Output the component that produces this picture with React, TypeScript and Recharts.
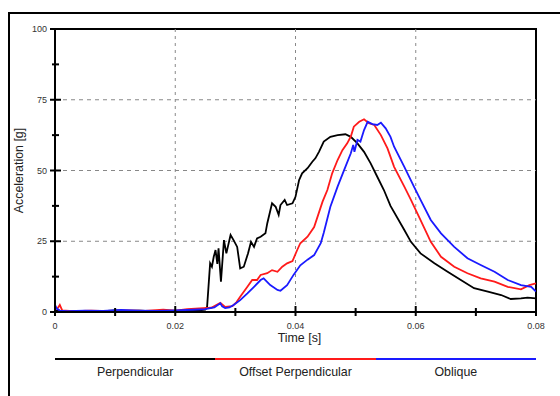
import { LineChart, Line, XAxis, YAxis, ReferenceLine, ReferenceArea } from "recharts";

// time [s] and acceleration [g]
const perpT = [0, 0.002, 0.004, 0.006, 0.008, 0.01, 0.012, 0.014, 0.016, 0.018, 0.02, 0.022, 0.024, 0.025, 0.0253, 0.0258, 0.0261, 0.0264, 0.0267, 0.027, 0.0272, 0.0276, 0.0281, 0.0285, 0.0292, 0.0297, 0.0303, 0.0308, 0.0314, 0.0321, 0.0326, 0.0331, 0.0336, 0.0342, 0.035, 0.0353, 0.0361, 0.0367, 0.0372, 0.0375, 0.0382, 0.0386, 0.0395, 0.04, 0.0406, 0.0411, 0.042, 0.0428, 0.0433, 0.0439, 0.0447, 0.0458, 0.047, 0.0483, 0.0492, 0.0503, 0.0514, 0.0525, 0.0536, 0.0547, 0.0558, 0.0581, 0.0592, 0.0608, 0.0631, 0.0653, 0.0675, 0.0697, 0.072, 0.0742, 0.0758, 0.0775, 0.0786, 0.08];
const perpAcc = [0.5, 0.3, 0.4, 0.2, 0.3, 0.6, 0.4, 0.5, 0.3, 0.5, 0.4, 0.5, 0.6, 0.8, 1.9, 17.2, 16, 19.5, 21.9, 17, 22.5, 10.7, 25.4, 20.7, 27.2, 25.4, 23, 15.4, 16, 20.7, 24.8, 23, 26, 26.6, 27.8, 31.3, 38.4, 37.2, 34.3, 37.8, 39.6, 37.8, 38.4, 40.7, 46.6, 49, 50.8, 53.1, 54.3, 56.6, 60.2, 61.9, 62.5, 62.8, 61.9, 59.6, 56.6, 52.5, 47.8, 43.1, 37.5, 29, 24.8, 20.7, 17.2, 14.2, 11.3, 8.4, 7.2, 6, 4.6, 4.8, 5.1, 4.8];

const offT = [0, 0.0005, 0.0008, 0.0012, 0.003, 0.006, 0.009, 0.012, 0.015, 0.018, 0.02, 0.022, 0.024, 0.026, 0.0275, 0.0283, 0.0295, 0.0302, 0.0308, 0.032, 0.0328, 0.0336, 0.0342, 0.0353, 0.0361, 0.037, 0.0378, 0.0386, 0.0395, 0.0403, 0.0408, 0.042, 0.0431, 0.0445, 0.0453, 0.0461, 0.047, 0.0478, 0.0486, 0.0492, 0.0497, 0.0506, 0.0514, 0.0522, 0.0531, 0.0542, 0.0553, 0.0564, 0.0581, 0.0592, 0.0608, 0.0625, 0.0642, 0.0664, 0.0686, 0.0708, 0.0731, 0.0753, 0.0775, 0.0789, 0.08];
const offAcc = [1.0, 1.5, 2.5, 0.6, 0.3, 0.5, 0.3, 0.6, 0.4, 0.8, 0.5, 1.0, 1.3, 1.5, 3.2, 1.8, 2.1, 3.5, 5.4, 8.9, 11.3, 11.3, 13.1, 13.7, 14.8, 14.2, 16, 17.2, 18, 22, 24.3, 26.6, 30, 39, 43.1, 49, 53.7, 57.2, 59.6, 62, 65.5, 67.2, 68.1, 66.7, 66.1, 62.5, 57.8, 51.3, 44.3, 39.6, 32.5, 24.8, 19.5, 16, 13.7, 11.9, 10.7, 8.9, 8, 9.5, 10.1];

const oblT = [0, 0.0003, 0.0008, 0.002, 0.005, 0.008, 0.011, 0.014, 0.017, 0.02, 0.023, 0.025, 0.0265, 0.0275, 0.0278, 0.0283, 0.029, 0.0297, 0.0308, 0.032, 0.0331, 0.0342, 0.0347, 0.0358, 0.037, 0.0375, 0.0386, 0.0397, 0.0408, 0.042, 0.0431, 0.0442, 0.0447, 0.0458, 0.047, 0.0481, 0.0492, 0.0496, 0.0498, 0.0503, 0.0508, 0.0514, 0.052, 0.0528, 0.0536, 0.0542, 0.055, 0.0558, 0.0564, 0.0581, 0.0597, 0.0608, 0.0625, 0.0642, 0.0664, 0.0686, 0.0708, 0.0731, 0.0753, 0.0775, 0.0792, 0.08];
const oblAcc = [2.5, 1.2, 0.5, 0.3, 0.5, 0.4, 0.7, 0.5, 0.4, 0.6, 0.8, 1.0, 1.6, 3.1, 2.0, 1.4, 1.6, 2.5, 4.2, 6.6, 8.9, 11.3, 11.9, 9.5, 7.8, 7.5, 9.5, 13.2, 16.5, 18.5, 20.1, 24.3, 28, 37.2, 44.3, 50.2, 56.1, 59, 56.6, 60.8, 60.2, 64.3, 67.2, 66.4, 66.1, 66.9, 64.9, 61.9, 58.4, 51.3, 44.3, 39.6, 32.5, 27.8, 23, 19, 16.6, 14.2, 11.3, 9.5, 8.9, 7.2];

const xMajor = [0, 0.02, 0.04, 0.06, 0.08];
const xMinor = [0.01, 0.03, 0.05, 0.07];
const yMajor = [0, 25, 50, 75, 100];
const yMinor = [12.5, 37.5, 62.5, 87.5];

const seriesNames = ["Perpendicular", "Offset Perpendicular", "Oblique"];
const seriesColors = ["#000000", "#ff1a1a", "#1a1aff"];

const toRows = (t: number[], v: number[]) => t.map((x, i) => ({ t: x, acc: v[i] }));
const seriesData = [toRows(perpT, perpAcc), toRows(offT, offAcc), toRows(oblT, oblAcc)];

const FONT = "'Liberation Sans', Arial, sans-serif";

function XTick({ x, y, payload }: any) {
  const major = xMajor.includes(payload.value);
  return (
    <g>
      <line x1={x} x2={x} y1={y - (major ? 6 : 4)} y2={y + 4} stroke="#000" strokeWidth={2} />
      {major && (
        <text x={x} y={y + 17} textAnchor="middle" fontSize={9} fill="#333" fontFamily={FONT}>
          {payload.value}
        </text>
      )}
    </g>
  );
}

function YTick({ x, y, payload }: any) {
  const major = yMajor.includes(payload.value);
  return (
    <g>
      <line x1={x - (major ? 5 : 3)} x2={x + (major ? 6 : 4)} y1={y} y2={y} stroke="#000" strokeWidth={2} />
      {major && (
        <text x={x - 8} y={y + 3} textAnchor="end" fontSize={9} fill="#333" fontFamily={FONT}>
          {payload.value}
        </text>
      )}
    </g>
  );
}

export default function App() {
  const plotLeft = 55;
  const plotW = 481;
  const segW = plotW / 3;
  return (
    <div style={{ position: "fixed", left: 0, top: 0, width: 560, height: 396, overflow: "hidden", background: "#fff" }}>
      <div style={{ position: "absolute", left: 8, top: 12, width: 600, height: 450, border: "2px solid #000" }} />
      <div style={{ position: "absolute", left: 0, top: 0 }}>
        <LineChart width={560} height={396} margin={{ top: 29, right: 24, left: 0, bottom: 54 }}>
          <XAxis
            type="number"
            dataKey="t"
            domain={[0, 0.08]}
            ticks={[...xMajor, ...xMinor].sort((a, b) => a - b)}
            interval={0}
            tickSize={0}
            tickMargin={0}
            height={30}
            tick={<XTick />}
            axisLine={{ stroke: "#000", strokeWidth: 2 }}
            allowDataOverflow
            label={{ value: "Time [s]", position: "insideBottom", offset: 0, dx: 4, fontSize: 12.4, fill: "#222", fontFamily: FONT }}
          />
          <YAxis
            type="number"
            domain={[0, 100]}
            ticks={[...yMajor, ...yMinor].sort((a, b) => a - b)}
            interval={0}
            tickSize={0}
            tickMargin={0}
            width={55}
            tick={<YTick />}
            axisLine={{ stroke: "#000", strokeWidth: 2 }}
            allowDataOverflow
            label={{ value: "Acceleration [g]", angle: -90, position: "insideLeft", offset: 19, style: { textAnchor: "middle" }, fontSize: 12.4, fill: "#222", fontFamily: FONT }}
          />
          {yMajor.slice(1, -1).map((v) => (
            <ReferenceLine key={"h" + v} y={v} stroke="#888" strokeDasharray="4 4" strokeWidth={1} />
          ))}
          {xMajor.slice(1, -1).map((v) => (
            <ReferenceLine key={"v" + v} x={v} stroke="#888" strokeDasharray="3 4" strokeWidth={1} />
          ))}
          <ReferenceArea x1={0} x2={0.08} y1={0} y2={100} fill="none" stroke="#000" strokeWidth={2} />
          {seriesData.map((d, i) => (
            <Line
              key={seriesNames[i]}
              data={d}
              dataKey="acc"
              type="linear"
              stroke={seriesColors[i]}
              strokeWidth={1.8}
              dot={false}
              isAnimationActive={false}
            />
          ))}
        </LineChart>
      </div>
      {seriesNames.map((name, i) => (
        <div key={name} style={{ position: "absolute", left: plotLeft + i * segW, top: 358, width: segW }}>
          <div style={{ height: 2, background: seriesColors[i] }} />
          <div style={{ textAlign: "center", marginTop: 5, fontSize: 12.4, color: "#222", fontFamily: FONT, lineHeight: "14px" }}>
            {name}
          </div>
        </div>
      ))}
    </div>
  );
}
